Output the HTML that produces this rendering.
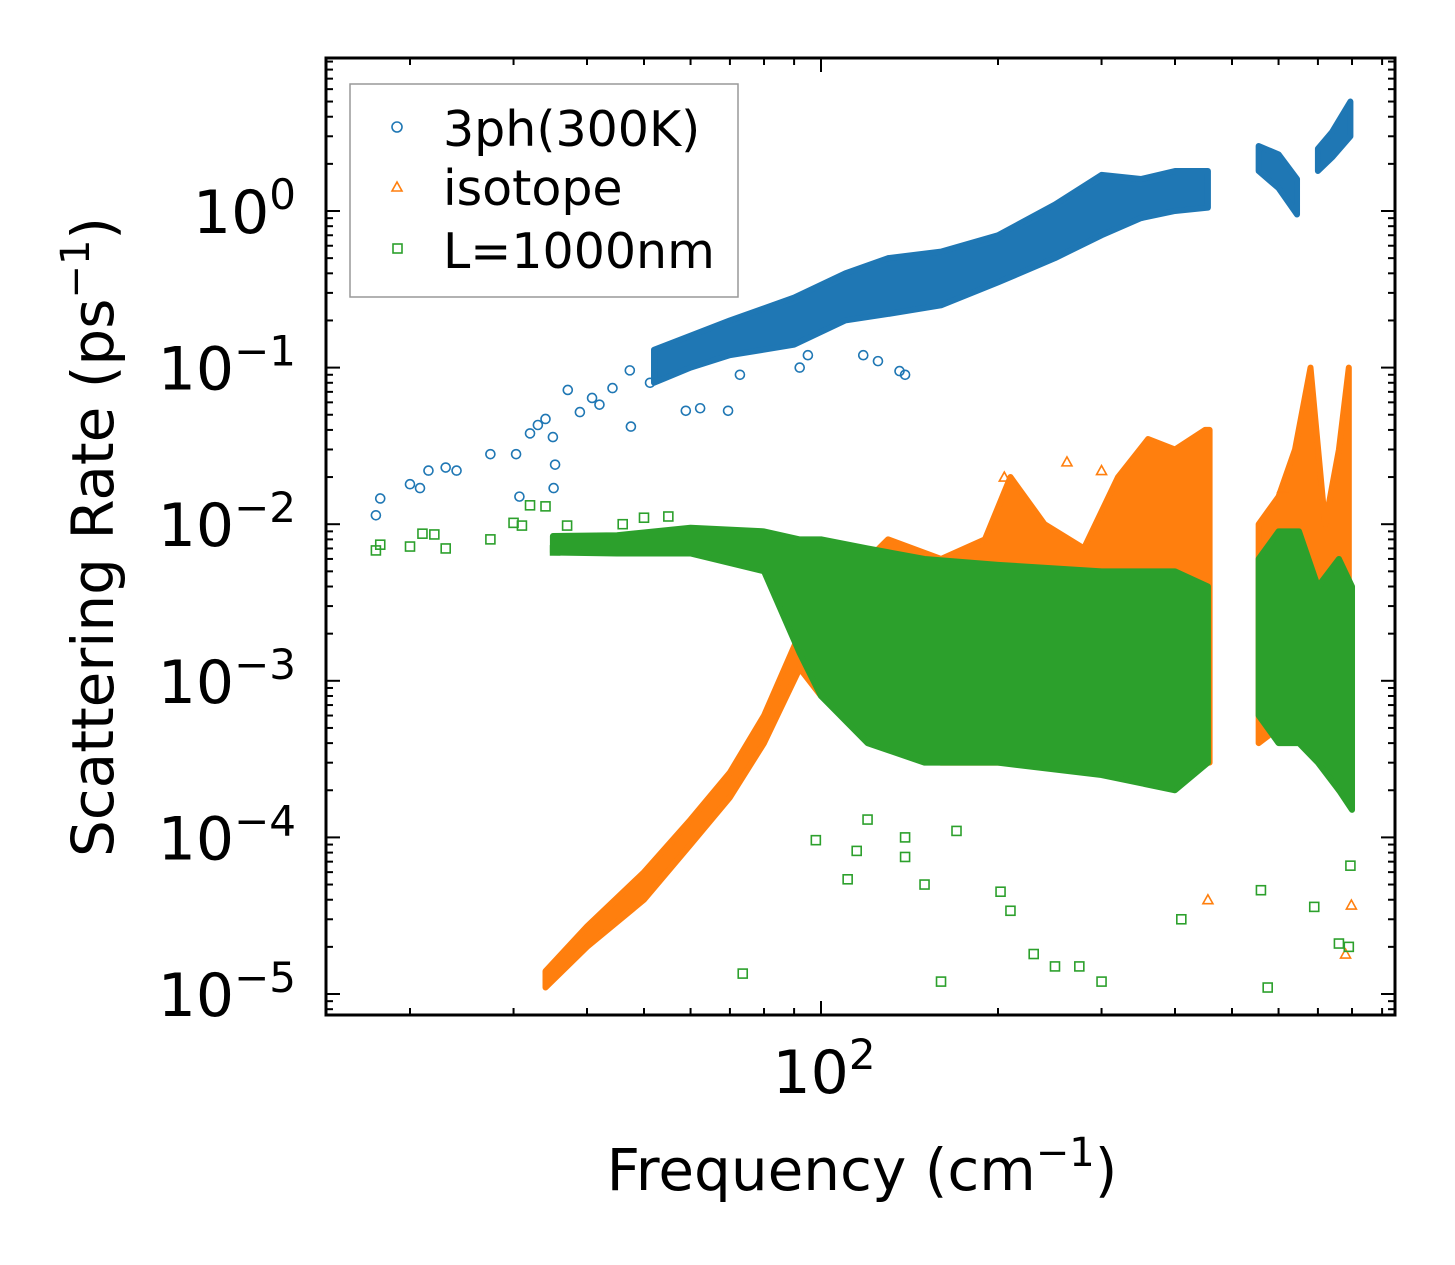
<!DOCTYPE html>
<html><head><meta charset="utf-8"><style>
html,body{margin:0;padding:0;background:#fff;}
svg{display:block;font-family:"DejaVu Sans","Liberation Sans",sans-serif;}
</style></head><body>
<svg id="chart" width="1455" height="1265" viewBox="0 0 1455 1265" xmlns="http://www.w3.org/2000/svg">
<rect width="1455" height="1265" fill="#fff"/>
<g id="marks"></g>
<g id="axes"></g>
<g id="legend">
<rect x="350" y="84" width="388" height="213" fill="#fff" fill-opacity="0.85" stroke="#999" stroke-width="1.5"/>
<circle cx="397" cy="127" r="5" fill="none" stroke="#1f77b4" stroke-width="1.6"/>
<text x="443" y="146" font-size="49" fill="#000">3ph(300K)</text>
<polygon points="397,182 402,191 392,191" fill="none" stroke="#ff7f0e" stroke-width="1.6"/>
<text x="443" y="205" font-size="49" fill="#000">isotope</text>
<rect x="393" y="244" width="9" height="9" fill="none" stroke="#2ca02c" stroke-width="1.6"/>
<text x="443" y="268" font-size="49" fill="#000">L=1000nm</text>
</g>
<text x="862" y="1190" font-size="58" text-anchor="middle">Frequency (cm<tspan dy="-24" font-size="40">−1</tspan><tspan dy="24">)</tspan></text>
<text transform="translate(113,537) rotate(-90)" font-size="58" text-anchor="middle">Scattering Rate (ps<tspan dy="-24" font-size="40">−1</tspan><tspan dy="24">)</tspan></text>
</svg>
<script>
// ---- data ----
const xDecades=[2];
const yDecades=[0,-1,-2,-3,-4,-5];
// 3ph dense band envelope: freq, low, high
const phFreq=[52,60,70,90,110,130,160,200,250,300,350,400,455];
const phLow=[0.08,0.1,0.12,0.14,0.2,0.22,0.25,0.35,0.5,0.7,0.9,1.0,1.05];
const phHigh=[0.13,0.16,0.2,0.28,0.4,0.5,0.55,0.7,1.1,1.7,1.6,1.8,1.8];
const phC1Freq=[555,600,645];const phC1Low=[1.8,1.4,0.95];const phC1High=[2.6,2.3,1.6];
const phC2Freq=[700,740,795];const phC2Low=[1.8,2.2,3.0];const phC2High=[2.5,3.2,5.0];
const phPtF=[17.5,17.8,20,20.8,21.5,23,24,27.4,30.3,30.7,32,33,34,35,35.3,35.1,37.1,38.9,40.8,42,44.2,47.3,47.5,51.2,58.9,62.3,69.5,72.8,92,95,136,139,118,125];
const phPtR=[0.0114,0.0146,0.018,0.017,0.022,0.023,0.022,0.028,0.028,0.015,0.038,0.043,0.047,0.036,0.024,0.017,0.072,0.052,0.064,0.058,0.074,0.096,0.042,0.08,0.053,0.055,0.053,0.09,0.1,0.12,0.095,0.09,0.12,0.11];
// isotope
const isoFreq=[34,40,50,60,70,80,92,100,130,160,190,210,240,280,320,360,400,450,458];
const isoLow=[0.000011,0.00002,0.00004,0.00009,0.00018,0.0004,0.0012,0.0008,0.0004,0.0003,0.0003,0.0003,0.0003,0.0003,0.0003,0.0003,0.0003,0.0003,0.0003];
const isoHigh=[0.000014,0.000027,0.00006,0.00013,0.00026,0.0006,0.002,0.003,0.008,0.006,0.008,0.02,0.01,0.007,0.02,0.035,0.03,0.04,0.04];
const isoCFreq=[555,600,640,680,720,760,790];
const isoCLow=[0.0004,0.0005,0.0005,0.0005,0.0003,0.0002,0.0002];
const isoCHigh=[0.01,0.015,0.03,0.1,0.01,0.03,0.1];
const isoPtF=[455,798,780,610,300,205,262];
const isoPtR=[0.00004,0.000037,0.000018,0.017,0.022,0.02,0.025];
// boundary L=1000nm
const bFreq=[35,45,60,80,92,100,120,150,200,300,400,455];
const bLow=[0.0066,0.0065,0.0065,0.005,0.0015,0.0008,0.0004,0.0003,0.0003,0.00025,0.0002,0.0003];
const bHigh=[0.0084,0.0085,0.0095,0.009,0.008,0.008,0.007,0.006,0.0055,0.005,0.005,0.004];
const bCFreq=[555,600,650,700,760,800];
const bCLow=[0.0006,0.0004,0.0004,0.0003,0.0002,0.00015];
const bCHigh=[0.006,0.009,0.009,0.004,0.006,0.004];
const bPtF=[17.5,17.8,20,21,22,23,27.4,30,31,32,34,35.3,37,40,43,46,50,55,98,111,115,139,139,150,73.6,160,202,210,230,250,275,300,410,560,575,690,760,790,795,120,170];
const bPtR=[0.0068,0.0074,0.0072,0.0087,0.0086,0.0070,0.0080,0.0102,0.0098,0.0132,0.0130,0.0068,0.0098,0.0072,0.0080,0.0100,0.0110,0.0112,0.000096,0.000054,0.000082,0.0001,0.000075,0.00005,0.0000135,0.000012,0.000045,0.000034,0.000018,0.000015,0.000015,0.000012,0.00003,0.000046,0.000011,0.000036,0.000021,0.00002,0.000066,0.00013,0.00011];
// ---- axes ----
const L=326,R=1395,T=58,B=1015;
const xs=f=>821+588*(Math.log10(f)-2);
const ys=r=>211-156.6*Math.log10(r);
const NS="http://www.w3.org/2000/svg";
const marks=document.getElementById('marks'),axes=document.getElementById('axes');
function mk(tag,attrs,parent){const e=document.createElementNS(NS,tag);for(const k in attrs)e.setAttribute(k,attrs[k]);parent.appendChild(e);return e;}
function band(F,lo,hi,color,name){
  let p=F.map((f,i)=>xs(f)+','+ys(hi[i]));
  for(let i=F.length-1;i>=0;i--)p.push(xs(F[i])+','+ys(lo[i]));
  const e=mk('polygon',{points:p.join(' '),fill:color,stroke:color,'stroke-width':6,'stroke-linejoin':'round'},marks);
  
  
}
function pts(F,Rr,shape,color,name){
  F.forEach((f,i)=>{const x=xs(f),y=ys(Rr[i]);let e;
    if(shape==='c')e=mk('circle',{cx:x,cy:y,r:4.5,fill:'none',stroke:color,'stroke-width':1.6},marks);
    else if(shape==='t')e=mk('polygon',{points:`${x},${y-5} ${x+5},${y+4} ${x-5},${y+4}`,fill:'none',stroke:color,'stroke-width':1.6},marks);
    else e=mk('rect',{x:x-4.5,y:y-4.5,width:9,height:9,fill:'none',stroke:color,'stroke-width':1.6},marks);
    
    
  });
}
const BL='#1f77b4',OR='#ff7f0e',GR='#2ca02c';
band(phFreq,phLow,phHigh,BL,'3ph-band');band(phC1Freq,phC1Low,phC1High,BL,'3ph-cluster-1');band(phC2Freq,phC2Low,phC2High,BL,'3ph-cluster-2');
pts(phPtF,phPtR,'c',BL,'3ph-point');
band(isoFreq,isoLow,isoHigh,OR,'isotope-band');band(isoCFreq,isoCLow,isoCHigh,OR,'isotope-cluster');
pts(isoPtF,isoPtR,'t',OR,'isotope-point');
band(bFreq,bLow,bHigh,GR,'boundary-band');band(bCFreq,bCLow,bCHigh,GR,'boundary-cluster');
pts(bPtF,bPtR,'s',GR,'boundary-point');
// frame
const fr=mk('rect',{x:L,y:T,width:R-L,height:B-T,fill:'none',stroke:'#000','stroke-width':3},axes);


function tick(x1,y1,x2,y2){mk('line',{x1,y1,x2,y2,stroke:'#000','stroke-width':2},axes);}
function minorY(d){for(let m=2;m<10;m++){const yy=ys(m*Math.pow(10,d));if(yy>T&&yy<B){tick(L,yy,L+7,yy);tick(R,yy,R-7,yy);}}}
yDecades.forEach(d=>{
  const y=ys(Math.pow(10,d));
  tick(L,y,L+14,y);tick(R,y,R-14,y);
  const t=mk('text',{x:L-30,y:y+22,'font-size':60,'text-anchor':'end'},axes);
  
  
  t.innerHTML='10<tspan dy="-24" font-size="42">'+(d===0?'0':'−'+(-d))+'</tspan>';
  minorY(d);
});
minorY(-6);
xDecades.forEach(d=>{
  const x=xs(Math.pow(10,d));
  tick(x,B,x,B-14);tick(x,T,x,T+14);
  const t=mk('text',{x:x+3,y:B+78,'font-size':60,'text-anchor':'middle'},axes);
  
  
  t.innerHTML='10<tspan dy="-24" font-size="42">2</tspan>';
});
[20,30,40,50,60,70,80,90,200,300,400,500,600,700,800,900].forEach(f=>{const x=xs(f);if(x>L&&x<R){tick(x,B,x,B-7);tick(x,T,x,T+7);}});
</script>
</body></html>
